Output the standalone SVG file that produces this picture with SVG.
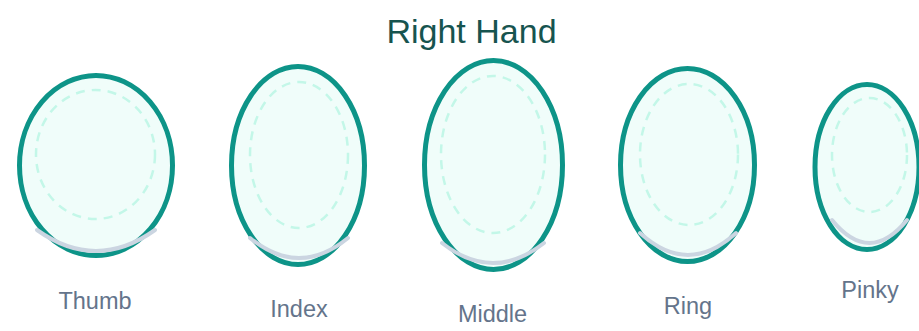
<svg xmlns="http://www.w3.org/2000/svg" width="919" height="331" viewBox="0 0 919 331">
<style>
.outer{fill:#f0fdfa;stroke:#0d9488;stroke-width:5}
.inner{fill:none;stroke:#c3f7e8;stroke-width:2.5;stroke-dasharray:9 7}
.nail{fill:none;stroke:#cbd5e1;stroke-width:4;stroke-linecap:round}
.label{font-family:"Liberation Sans",Arial,sans-serif;font-size:23.5px;fill:#64748b;text-anchor:middle}
.title{font-family:"Liberation Sans",Arial,sans-serif;font-size:34px;fill:#17544f;text-anchor:middle}
</style>
<rect width="919" height="331" fill="#ffffff"/>
<text class="title" x="471.5" y="43">Right Hand</text>
<g id="thumb">
<ellipse class="outer" cx="96" cy="165.5" rx="76.5" ry="90"/>
<ellipse class="inner" cx="95.5" cy="154.5" rx="59.5" ry="64.5"/>
<path class="nail" d="M37,230 Q96,272 155,230"/>
<text class="label" x="95" y="309">Thumb</text>
</g>
<g id="index">
<ellipse class="outer" cx="298" cy="165.5" rx="66.5" ry="99"/>
<ellipse class="inner" cx="299" cy="155" rx="49" ry="73"/>
<path class="nail" d="M250,238 Q299,278 348,238"/>
<text class="label" x="299" y="317">Index</text>
</g>
<g id="middle">
<ellipse class="outer" cx="493.5" cy="165" rx="69" ry="104.5"/>
<ellipse class="inner" cx="493" cy="154.5" rx="52" ry="78.5"/>
<path class="nail" d="M442,243 Q493,283 544,243"/>
<text class="label" x="492.5" y="322">Middle</text>
</g>
<g id="ring">
<ellipse class="outer" cx="687.5" cy="165" rx="67" ry="96.5"/>
<ellipse class="inner" cx="689" cy="154.5" rx="49" ry="70.5"/>
<path class="nail" d="M640,233 Q688,277 736,233"/>
<text class="label" x="688" y="314">Ring</text>
</g>
<g id="pinky">
<ellipse class="outer" cx="867" cy="167" rx="52" ry="82.5"/>
<ellipse class="inner" cx="869.5" cy="155" rx="37.5" ry="57"/>
<path class="nail" d="M832,220 Q869.5,266 907,220"/>
<text class="label" x="870" y="298">Pinky</text>
</g>
</svg>
